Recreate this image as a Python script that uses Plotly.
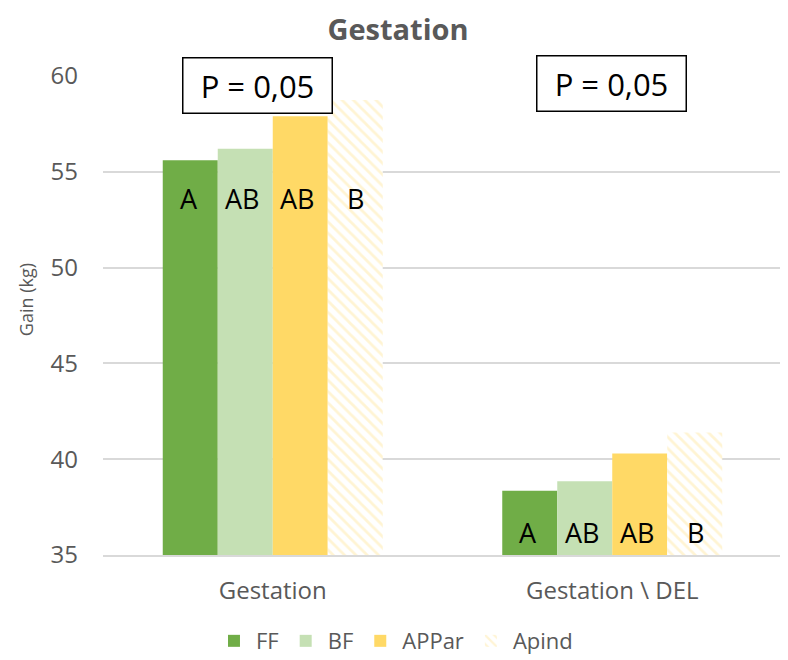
import plotly.graph_objects as go

categories = ["Gestation", "Gestation \\ DEL"]
series_names = ["FF", "BF", "APPar", "Apind"]
FF = [55.6, 38.35]
BF = [56.2, 38.85]
APPar = [57.9, 40.3]
Apind = [58.75, 41.4]
letters = ["A", "AB", "AB", "B"]
p_labels = ["P = 0,05", "P = 0,05"]
letter_y = [53.63, 36.2]

colors = ["#70AD47", "#C5E0B4", "#FFD966", "#FFFFFF"]
font = "Open Sans, DejaVu Sans, sans-serif"

fig = go.Figure()
for name, vals, col in zip(series_names, [FF, BF, APPar, Apind], colors):
    if name == "Apind":
        marker = dict(color="#FFFFFF", pattern=dict(shape="\\", fgcolor="#FFE9A8", bgcolor="#FFFFFF", size=8, solidity=0.35), line=dict(width=0))
    else:
        marker = dict(color=col, line=dict(width=0))
    fig.add_trace(go.Bar(name=name, x=categories, y=vals, marker=marker))

annotations = []
shifts = [-84, -30, 25, 83]
for ci, cat in enumerate(categories):
    for li, lab in enumerate(letters):
        annotations.append(dict(x=cat, y=letter_y[ci], text=lab, showarrow=False, xshift=shifts[li],
                                font=dict(size=27, color="#000000", family=font)))
p_y = [59.53, 59.63]
p_shift = [-15, -1]
for ci, cat in enumerate(categories):
    annotations.append(dict(x=cat, y=p_y[ci], text=p_labels[ci], showarrow=False, xshift=p_shift[ci],
                            font=dict(size=31, color="#000000", family=font), width=134, height=40,
                            bordercolor="#000000", borderwidth=1.5, borderpad=7, bgcolor="#FFFFFF"))
annotations.append(dict(xref="paper", yref="paper", x=-0.1134, y=0.532, text="Gain (kg)", textangle=-90,
                        showarrow=False, xanchor="center", yanchor="middle",
                        font=dict(size=18, color="#595959", family=font)))

fig.update_layout(
    width=780, height=652,
    margin=dict(l=95, r=6, t=68, b=105),
    paper_bgcolor="#FFFFFF", plot_bgcolor="#FFFFFF",
    title=dict(text="<b>Gestation</b>", x=0.5, xanchor="center", y=0.967, yanchor="middle",
               font=dict(size=29, color="#595959", family=font)),
    barmode="group", bargap=0.352, bargroupgap=0,
    font=dict(family=font, color="#595959"),
    xaxis=dict(showline=True, linecolor="#D9D9D9", linewidth=1.5, tickfont=dict(size=24, color="#595959"),
               ticks="", automargin=False, ticklabelstandoff=13, tickangle=0),
    yaxis=dict(range=[35, 60], dtick=5, showgrid=True, gridcolor="#D9D9D9", gridwidth=1.5, zeroline=False,
               tickfont=dict(size=24, color="#595959"), ticks="", ticklabelstandoff=24, automargin=False),
    legend=dict(orientation="h", x=0.43, xanchor="center", yref="container", y=0.0613, yanchor="top",
                font=dict(size=22, color="#595959"), itemwidth=34, traceorder="normal"),
    annotations=annotations,
)
fig.write_html("out.html")
